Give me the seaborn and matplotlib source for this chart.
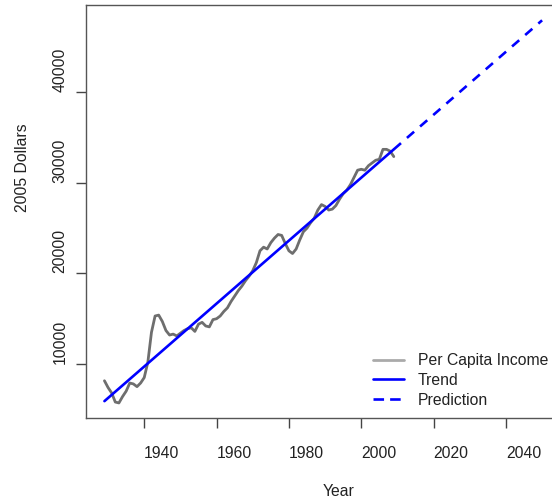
import matplotlib
matplotlib.use('Agg')
import numpy as np
import pandas as pd
import matplotlib.pyplot as plt
import seaborn as sns
from matplotlib.lines import Line2D

# per capita income, 2005 dollars
years = list(range(1929, 2010))
income = [8150, 7400, 6800, 5800, 5700, 6400, 7000, 7900, 7800, 7500,
          7900, 8500, 10200, 13500, 15300, 15400, 14700, 13700, 13200, 13300,
          13100, 13400, 13700, 13900, 14000, 13600, 14400, 14600, 14200, 14100,
          14900, 15000, 15300, 15800, 16200, 16900, 17500, 18100, 18600, 19200,
          19700, 20300, 21200, 22500, 22900, 22700, 23400, 23900, 24300, 24200,
          23300, 22500, 22200, 22700, 23700, 24600, 25000, 25600, 26100, 27000,
          27600, 27400, 27000, 27100, 27500, 28200, 28800, 29200, 29800, 30600,
          31400, 31500, 31400, 31900, 32200, 32500, 32600, 33700, 33700, 33500,
          32900]

trend_years = [1929, 2009]
trend_values = [5900, 33700]
pred_years = [2009, 2050]
pred_values = [33700, 47950]

x_ticks = [1940, 1960, 1980, 2000, 2020, 2040]
y_ticks = [10000, 20000, 30000, 40000]
legend_labels = ['Per Capita Income', 'Trend', 'Prediction']

sns.set_style('white')
plt.rcParams['font.family'] = ['Liberation Sans', 'DejaVu Sans']

fs = 11.3
fig = plt.figure(figsize=(5.52, 5.01), dpi=100)
ax = fig.add_axes([86 / 552, (501 - 418.3) / 501, 473.6 / 552, 413 / 501])

df = pd.DataFrame({'Year': years, 'Income': income})
sns.lineplot(data=df, x='Year', y='Income', color='#6e6e6e', lw=2.0, ax=ax)
sns.lineplot(x=trend_years, y=trend_values, color='#0000ff', lw=1.9, ax=ax)
sns.lineplot(x=pred_years, y=pred_values, color='#0000ff', lw=1.9,
             linestyle=(0, (3.6, 3.0)), ax=ax)

ax.set_xlim(1923.9, 2054.84)
ax.set_ylim(4005, 49606)
ax.set_xticks(x_ticks)
ax.set_xticklabels([str(t) for t in x_ticks])
ax.set_yticks(y_ticks)
ax.set_yticklabels([str(t) for t in y_ticks], rotation=90, va='bottom')
for lbl in ax.get_xticklabels():
    lbl.set_ha('left')

ax.tick_params(axis='both', direction='out', length=7.2, width=1,
               color='#444444', labelsize=fs, labelcolor='#222222',
               bottom=True, left=True)
ax.tick_params(axis='x', pad=13)
ax.tick_params(axis='y', pad=6)

for s in ax.spines.values():
    s.set_color('#555555')
    s.set_linewidth(1)
ax.spines['right'].set_visible(False)

ax.set_xlabel('Year', fontsize=fs, color='#222222')
ax.xaxis.label.set_ha('left')
ax.xaxis.set_label_coords(0.5, -0.16)
ax.set_ylabel('2005 Dollars', fontsize=fs, color='#222222')
ax.yaxis.label.set_ha('left')
ax.yaxis.set_label_coords(-0.118, 0.5)

handles = [Line2D([], [], color='#aaaaaa', lw=2.0),
           Line2D([], [], color='#0000ff', lw=1.9),
           Line2D([], [], color='#0000ff', lw=1.9, linestyle=(0, (4.0, 2.3)))]
ax.legend(handles, legend_labels, loc='upper left',
          bbox_to_anchor=(373 / 552, (501 - 353) / 501),
          bbox_transform=fig.transFigure, frameon=False, fontsize=fs,
          handlelength=1.95, handletextpad=0.9, labelspacing=0.31,
          borderpad=0, borderaxespad=0, labelcolor='#222222')

fig.savefig('out.png', dpi=100)
